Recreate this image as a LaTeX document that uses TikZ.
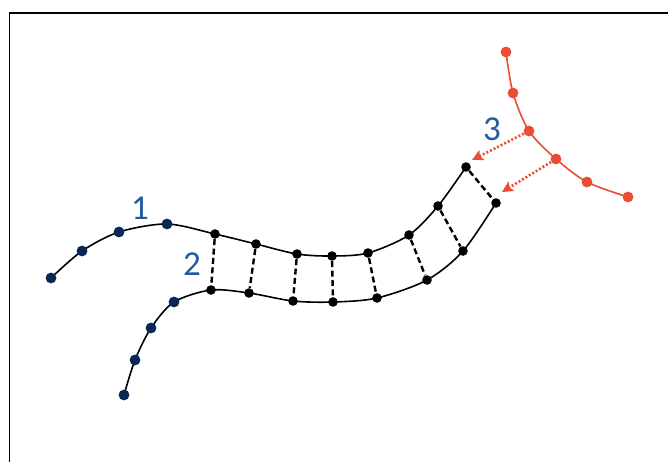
\documentclass[tikz,border=0pt]{standalone}
\usepackage{fontspec}
\setmainfont{Carlito}
\usetikzlibrary{arrows.meta,backgrounds}
\definecolor{navyfill}{RGB}{10,40,85}
\definecolor{redfill}{RGB}{234,76,52}
\definecolor{numblue}{RGB}{33,92,158}

\begin{document}
\begin{tikzpicture}[x=0.5pt, y=-0.5pt,
    every node/.style={
    circle,
    inner sep=0pt,
    fill=black,
    minimum size=4.8pt
},
    navydot/.style={fill=navyfill, minimum size=5.4pt},
    reddot/.style={fill=redfill, minimum size=5.4pt},
    numtxt/.style={rectangle, fill=none, inner sep=1pt, text=numblue, font=\fontsize{17.5}{20}\selectfont},
    rung/.style={black, line width=1.2pt, dash pattern=on 3pt off 1.7pt},
    pull/.style={redfill, line width=1.3pt, dash pattern=on 1pt off 1pt, -{Stealth[length=5.5pt,width=5.5pt,inset=1.2pt]}}
]

    \useasboundingbox (0,0) rectangle (668,461);
    \draw[line width=0.8pt] (9.5,470) |- (680,13);



    \node (a1) [navydot] at (51,278) {};
    \node (a2) [navydot] at (82,251) {};
    \node (a3) [navydot] at (119,232) {};
    \node (a4) [navydot] at (167,224) {};
    \node (a5) at (215,234) {};
    \node (a6) at (256,244) {};
    \node (a7) at (297,254) {};
    \node (a8) at (332,256) {};
    \node (a9) at (368,253) {};
    \node (a10) at (409,235) {};
    \node (a11) at (438,206) {};
    \node (a12) at (466,167) {};

    \node (b1) [navydot] at (124,395) {};
    \node (b2) [navydot] at (135,360) {};
    \node (b3) [navydot] at (151,328) {};
    \node (b4) [navydot] at (174,302) {};
    \node (b5) at (211,290) {};
    \node (b6) at (249,293) {};
    \node (b7) at (293,301) {};
    \node (b8) at (333,302) {};
    \node (b9) at (377,298) {};
    \node (b10) at (427,280) {};
    \node (b11) at (463,251) {};
    \node (b12) at (496,203) {};

    \node (r1) [reddot] at (506,52) {};
    \node (r2) [reddot] at (513,93) {};
    \node (r3) [reddot] at (529,131) {};
    \node (r4) [reddot] at (556,159) {};
    \node (r5) [reddot] at (587,182) {};
    \node (r6) [reddot] at (628,197) {};

    \coordinate (tip1) at (472,160);
    \coordinate (tip2) at (502,192);



    \node (one) [numtxt] at (140,208) {1};
    \node (two) [numtxt] at (192,264) {2};
    \node (three) [numtxt] at (492,129) {3};


    \begin{scope}[on background layer]
    \draw[line width=0.8pt] plot[smooth] coordinates {(a1) (a2) (a3) (a4) (a5) (a6) (a7) (a8) (a9) (a10) (a11) (a12)};
    \draw[line width=0.8pt] plot[smooth] coordinates {(b1) (b2) (b3) (b4) (b5) (b6) (b7) (b8) (b9) (b10) (b11) (b12)};
    \draw[redfill, line width=0.8pt] plot[smooth] coordinates {(r1) (r2) (r3) (r4) (r5) (r6)};

    \draw[rung] (a5) -- (b5);
    \draw[rung] (a6) -- (b6);
    \draw[rung] (a7) -- (b7);
    \draw[rung] (a8) -- (b8);
    \draw[rung] (a9) -- (b9);
    \draw[rung] (a10) -- (b10);
    \draw[rung] (a11) -- (b11);
    \draw[rung] (a12) -- (b12);
    \end{scope}

    \draw[pull] (r3) -- (tip1);
    \draw[pull] (r4) -- (tip2);


\end{tikzpicture}
\end{document}
